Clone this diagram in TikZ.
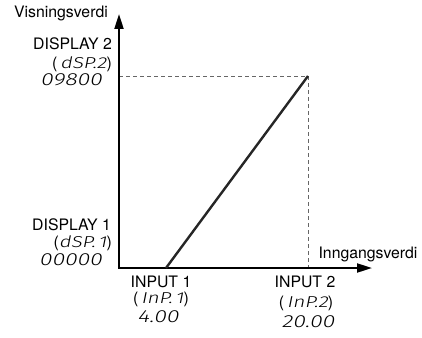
\documentclass[tikz,border=0pt]{standalone}
\usepackage{fontspec}
\setmainfont{TeX Gyre Heros}
\newfontfamily\segfont[FakeSlant=0.2,FakeStretch=1.3]{Fira Sans Light}
\usetikzlibrary{arrows.meta}
\tikzset{
  axis/.style={line width=2pt,line join=miter,{Triangle[length=15pt,width=9pt]}-{Triangle[length=15pt,width=9pt]}},
  graph/.style={line width=2.4pt,draw=black!85},
  guide/.style={line width=0.9pt,draw=black!60,dash pattern=on 4pt off 3pt},
  lbl/.style={inner sep=0pt,font=\fontsize{15.8}{18}\selectfont},
  seg/.style={inner sep=0pt,font=\fontsize{17.5}{19}\segfont}
}
\begin{document}
\begin{tikzpicture}[x=1pt,y=-1pt]
\useasboundingbox (0,0) rectangle (422,337);
\coordinate (O) at (119,268);
\coordinate (ytip) at (119,14);
\coordinate (xtip) at (372,268);
\coordinate (P1) at (166,268);
\coordinate (P2) at (308,76);
\coordinate (gy) at (119,76);
\coordinate (gx) at (308,268);
\draw[guide] (gy) -- (P2) -- (gx);
\draw[axis] (ytip) -- (O) -- (xtip);
\draw[graph] (P1) -- (P2);
\node[lbl] (vis) at (61,13) {Visningsverdi};
\node[lbl] (inn) at (368,254) {Inngangsverdi};
\node[lbl,anchor=east] (d2) at (112,44) {DISPLAY 2};
\node[lbl,anchor=east] (d2c) at (112,64) {(\,{\segfont dSP.2})};
\node[seg,anchor=east] (d2v) at (102,80) {09800};
\node[lbl,anchor=east] (d1) at (111,225) {DISPLAY 1};
\node[lbl,anchor=east] (d1c) at (112,243) {({\segfont dSP.\,1})};
\node[seg,anchor=east] (d1v) at (102,260) {00000};
\node[lbl] (i1) at (161,282) {INPUT 1};
\node[lbl] (i1c) at (161,299) {(\,{\segfont InP.\,1})};
\node[seg] (i1v) at (158,317) {4.00};
\node[lbl] (i2) at (305,282) {INPUT 2};
\node[lbl] (i2c) at (306,303) {(\,{\segfont InP.2})};
\node[seg] (i2v) at (308,322) {20.00};
\end{tikzpicture}
\end{document}
